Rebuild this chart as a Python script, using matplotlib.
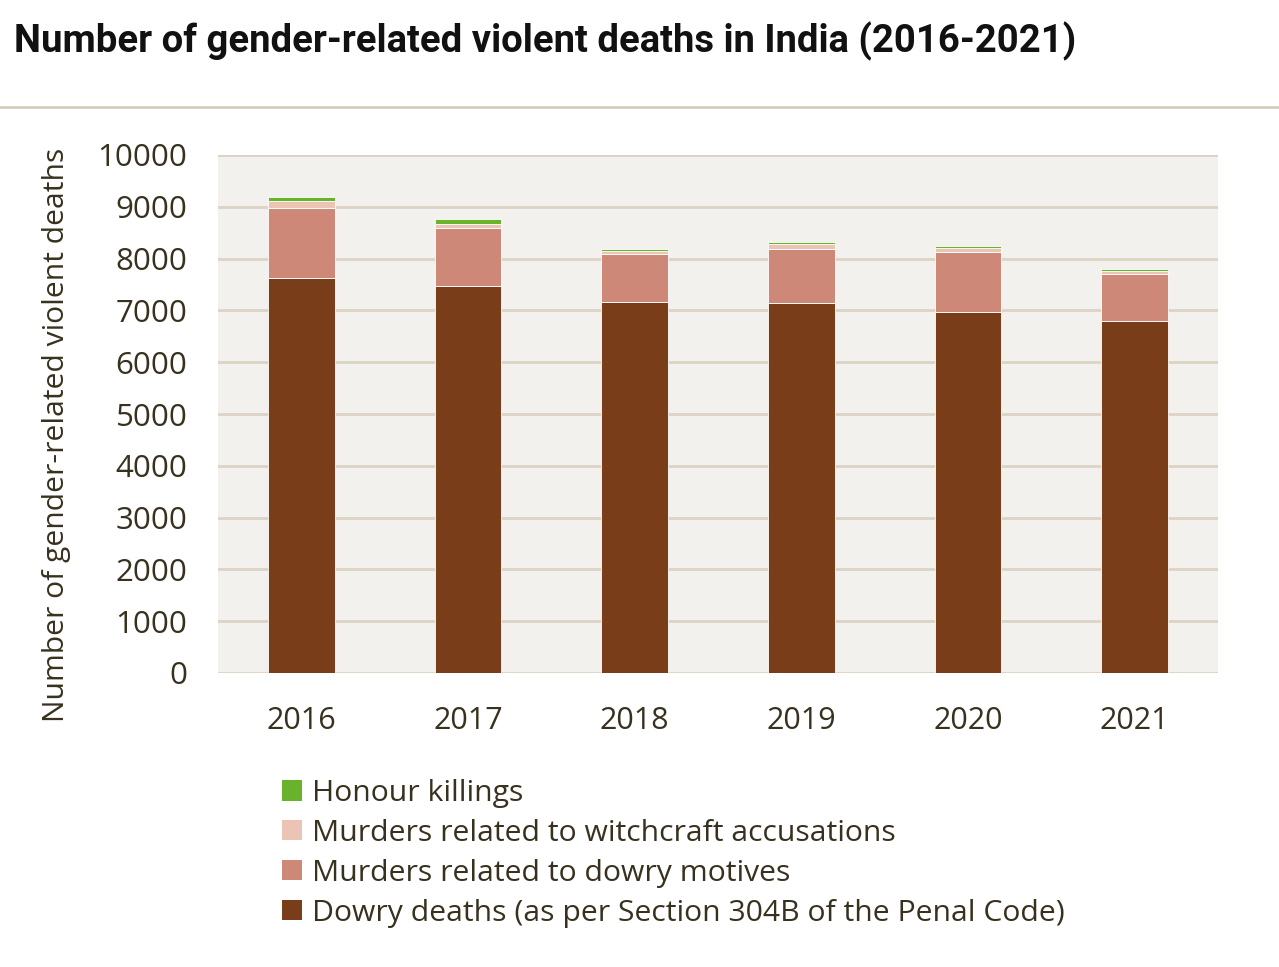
import numpy as np
import matplotlib.pyplot as plt
from matplotlib.patches import Patch

# values
years = ['2016', '2017', '2018', '2019', '2020', '2021']
dowry_deaths = [7621, 7466, 7166, 7141, 6966, 6795]
dowry_murders = [1360, 1130, 928, 1045, 1160, 900]
witchcraft = [134, 73, 62, 102, 88, 68]
honour = [77, 92, 29, 24, 25, 33]

series_names = ['Dowry deaths (as per Section 304B of the Penal Code)',
                'Murders related to dowry motives',
                'Murders related to witchcraft accusations',
                'Honour killings']
series_colors = ['#7a3d1a', '#cd8877', '#ebc4b6', '#68b22c']

text_col = '#38311f'
grid_col = '#dcd3c5'

plt.rcParams['font.family'] = ['Open Sans', 'DejaVu Sans']

fig = plt.figure(figsize=(12.79, 9.67), dpi=100)
ax = fig.add_axes([218/1279, 1-673/967, 1000/1279, 518/967])
ax.set_facecolor('#f3f1ed')

x = np.arange(len(years))
bottom = np.zeros(len(years))
for vals, name, col in zip([dowry_deaths, dowry_murders, witchcraft, honour], series_names, series_colors):
    ax.bar(x, vals, width=0.4, bottom=bottom, color=col, edgecolor='white', linewidth=0.6, label=name)
    bottom += np.array(vals)

ax.set_xlim(-0.5, len(years)-0.5)
ax.set_ylim(0, 10000)
ax.set_yticks(np.arange(0, 10001, 1000))
ax.set_xticks(x)
ax.set_xticklabels(years)
ax.yaxis.grid(True, color=grid_col, linewidth=2)
ax.set_axisbelow(True)
for s in ax.spines.values():
    s.set_visible(False)
ax.tick_params(axis='both', length=0, colors=text_col)
ax.tick_params(axis='y', pad=22, labelsize=22.5)
ax.tick_params(axis='x', pad=24, labelsize=22)

fig.text(57/1279, 1-435/967, 'Number of gender-related violent deaths', rotation=90,
         ha='center', va='center', fontsize=21.6, color=text_col)

# title and rule under it
fig.text(14/1279, 1-41/967, 'Number of gender-related violent deaths in India (2016-2021)',
         ha='left', va='center', fontsize=27.5, fontweight='bold', color='#111111',
         family=['Roboto', 'DejaVu Sans'])
fig.add_artist(plt.Line2D([0, 1], [1-107/967, 1-107/967], color='#d6ccbd', linewidth=2))

handles = [Patch(facecolor=c, edgecolor='none') for c in series_colors][::-1]
leg = fig.legend(handles, series_names[::-1], loc='upper left',
                 bbox_to_anchor=(255/1279, 1-752/967), frameon=False,
                 fontsize=21.7, handlelength=0.65, handleheight=0.65,
                 handletextpad=0.35, labelspacing=0.36)
for t in leg.get_texts():
    t.set_color(text_col)

fig.savefig('out.png', dpi=100, facecolor='white')
